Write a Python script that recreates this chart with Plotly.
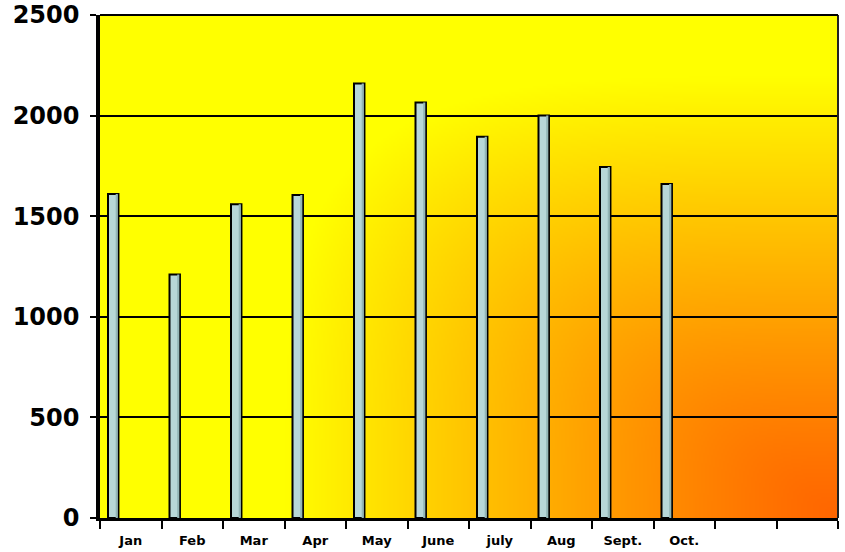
import zlib, struct, base64
import plotly.graph_objects as go

# ---- data ----
months = ["Jan", "Feb", "Mar", "Apr", "May", "June", "july", "Aug", "Sept.", "Oct."]
empty_slots = [" ", "  "]
sales = [1610, 1210, 1560, 1605, 2160, 2065, 1895, 2000, 1745, 1660]
y_ticks = [0, 500, 1000, 1500, 2000, 2500]

categories = months + empty_slots

# ---- decorative background gradient (yellow -> orange, from bottom-right corner) ----
def gradient_png(w, h):
    rows = []
    for j in range(h):
        dy = 1 - j / (h - 1)          # 0 at bottom, 1 at top
        sy = dy / 0.88
        row = bytearray([0])
        for i in range(w):
            dx = 1 - i / (w - 1)      # 0 at right, 1 at left
            sx = dx / 0.75
            s = (sx ** 4 + sy ** 4) ** 0.25
            t = min(1.0, s ** 1.2)
            g = int(round(102 + 153 * t))
            row += bytes([255, g, 0])
        rows.append(bytes(row))
    raw = b"".join(rows)

    def chunk(tag, data):
        c = struct.pack(">I", len(data)) + tag + data
        return c + struct.pack(">I", zlib.crc32(tag + data) & 0xFFFFFFFF)

    png = b"\x89PNG\r\n\x1a\n"
    png += chunk(b"IHDR", struct.pack(">IIBBBBB", w, h, 8, 2, 0, 0, 0))
    png += chunk(b"IDAT", zlib.compress(raw, 9))
    png += chunk(b"IEND", b"")
    return "data:image/png;base64," + base64.b64encode(png).decode()

bg_src = gradient_png(369, 252)

fig = go.Figure()

# front face of the columns
fig.add_trace(go.Bar(
    x=months, y=sales,
    offset=-0.37, width=0.17,
    marker=dict(color="#b7d7d7", line=dict(color="black", width=2)),
    hoverinfo="x+y", showlegend=False,
))
# darker right side of the columns (3D look)
fig.add_trace(go.Bar(
    x=months, y=sales,
    offset=-0.245, width=0.035,
    marker=dict(color="#93b6b6", line=dict(width=0)),
    hoverinfo="skip", showlegend=False,
))

font_fam = "DejaVu Sans"

fig.update_layout(
    width=845, height=552,
    margin=dict(l=100, r=7, t=15, b=34, autoexpand=False),
    paper_bgcolor="white",
    plot_bgcolor="rgba(0,0,0,0)",
    barmode="overlay",
    showlegend=False,
    images=[dict(
        source=bg_src, xref="x domain", yref="y domain",
        x=0, y=1, sizex=1, sizey=1, sizing="stretch",
        xanchor="left", yanchor="top", layer="below",
    )],
    xaxis=dict(
        type="category",
        categoryorder="array", categoryarray=categories,
        range=[-0.5, len(categories) - 0.5],
        tickson="boundaries",
        ticks="outside", ticklen=8, tickwidth=2, tickcolor="black",
        showline=True, linecolor="black", linewidth=3,
        showgrid=False, zeroline=False,
        tickfont=dict(family=font_fam, size=13, color="black", weight="bold"),
        ticklabelstandoff=8,
        automargin=False,
        fixedrange=True,
    ),
    yaxis=dict(
        range=[0, 2500],
        tickvals=y_ticks,
        ticks="outside", ticklen=6, tickwidth=2, tickcolor="black",
        showline=True, linecolor="black", linewidth=3.5,
        showgrid=True, gridcolor="black", gridwidth=2,
        zeroline=False,
        tickfont=dict(family=font_fam, size=24, color="black", weight="bold"),
        ticklabelstandoff=6,
        automargin=False,
        fixedrange=True,
    ),
    shapes=[
        dict(type="line", xref="x domain", yref="y domain",
             x0=1, x1=1, y0=0, y1=1,
             line=dict(color="#222222", width=2), layer="above"),
        dict(type="line", xref="x domain", yref="y domain",
             x0=0, x1=1, y0=1, y1=1,
             line=dict(color="black", width=2), layer="above"),
    ],
)

fig.write_html(
    "out.html",
    config={"displayModeBar": False},
    post_script="document.body.style.margin='0';document.body.style.padding='0';",
)
